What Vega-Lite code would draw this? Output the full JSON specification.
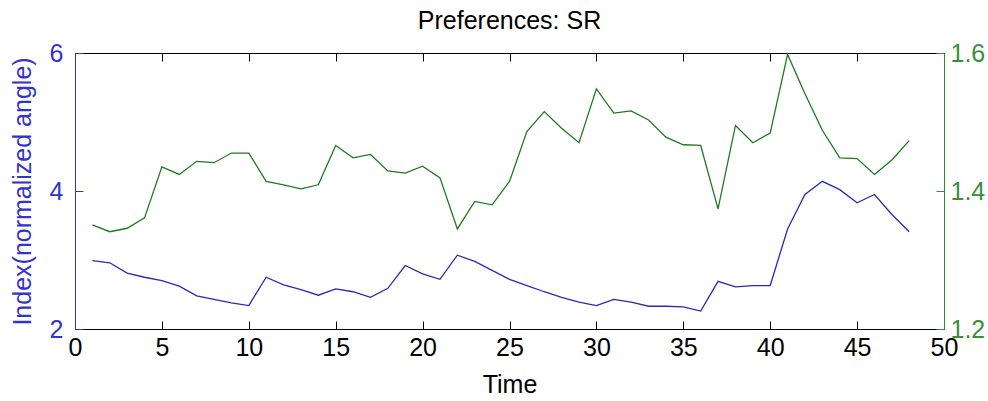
{
  "$schema": "https://vega.github.io/schema/vega-lite/v6.json",
  "width": 869,
  "height": 276,
  "autosize": {"type": "none"},
  "padding": {"left": 75, "top": 53, "right": 44, "bottom": 72},
  "background": "white",
  "config": {
    "font": "Liberation Sans",
    "view": {"stroke": "black", "strokeWidth": 1},
    "axis": {"grid": false, "labelFontSize": 25, "titleFontSize": 25, "titleFontWeight": "normal", "domainWidth": 1, "tickWidth": 1, "labelOverlap": false, "labelFlush": false}
  },
  "title": {"text": "Preferences: SR", "fontSize": 25, "fontWeight": "normal", "color": "black", "baseline": "bottom", "offset": 19, "anchor": "middle", "frame": "group", "dy": 37},
  "data": {"values": [
    {"t": 1, "index": 2.99, "pref": 1.351},
    {"t": 2, "index": 2.96, "pref": 1.341},
    {"t": 3, "index": 2.81, "pref": 1.346},
    {"t": 4, "index": 2.75, "pref": 1.361},
    {"t": 5, "index": 2.70, "pref": 1.435},
    {"t": 6, "index": 2.62, "pref": 1.424},
    {"t": 7, "index": 2.48, "pref": 1.443},
    {"t": 8, "index": 2.43, "pref": 1.441},
    {"t": 9, "index": 2.38, "pref": 1.455},
    {"t": 10, "index": 2.34, "pref": 1.455},
    {"t": 11, "index": 2.75, "pref": 1.414},
    {"t": 12, "index": 2.64, "pref": 1.409},
    {"t": 13, "index": 2.57, "pref": 1.403},
    {"t": 14, "index": 2.49, "pref": 1.409},
    {"t": 15, "index": 2.58, "pref": 1.466},
    {"t": 16, "index": 2.54, "pref": 1.448},
    {"t": 17, "index": 2.46, "pref": 1.453},
    {"t": 18, "index": 2.59, "pref": 1.429},
    {"t": 19, "index": 2.92, "pref": 1.426},
    {"t": 20, "index": 2.80, "pref": 1.436},
    {"t": 21, "index": 2.72, "pref": 1.419},
    {"t": 22, "index": 3.07, "pref": 1.345},
    {"t": 23, "index": 2.98, "pref": 1.385},
    {"t": 24, "index": 2.85, "pref": 1.380},
    {"t": 25, "index": 2.72, "pref": 1.414},
    {"t": 26, "index": 2.63, "pref": 1.486},
    {"t": 27, "index": 2.54, "pref": 1.515},
    {"t": 28, "index": 2.46, "pref": 1.491},
    {"t": 29, "index": 2.39, "pref": 1.470},
    {"t": 30, "index": 2.34, "pref": 1.548},
    {"t": 31, "index": 2.43, "pref": 1.513},
    {"t": 32, "index": 2.39, "pref": 1.516},
    {"t": 33, "index": 2.33, "pref": 1.503},
    {"t": 34, "index": 2.33, "pref": 1.478},
    {"t": 35, "index": 2.32, "pref": 1.467},
    {"t": 36, "index": 2.26, "pref": 1.466},
    {"t": 37, "index": 2.69, "pref": 1.374},
    {"t": 38, "index": 2.61, "pref": 1.495},
    {"t": 39, "index": 2.63, "pref": 1.470},
    {"t": 40, "index": 2.63, "pref": 1.484},
    {"t": 41, "index": 3.45, "pref": 1.598},
    {"t": 42, "index": 3.95, "pref": 1.541},
    {"t": 43, "index": 4.14, "pref": 1.488},
    {"t": 44, "index": 4.02, "pref": 1.448},
    {"t": 45, "index": 3.83, "pref": 1.447},
    {"t": 46, "index": 3.95, "pref": 1.424},
    {"t": 47, "index": 3.66, "pref": 1.445},
    {"t": 48, "index": 3.41, "pref": 1.473}
  ]},
  "layer": [
    {
      "mark": {"type": "line", "color": "#2a2ab8", "strokeWidth": 1.3},
      "encoding": {
        "x": {"field": "t", "type": "quantitative", "scale": {"domain": [0, 50], "nice": false},
          "axis": {"orient": "bottom", "title": "Time", "values": [0,5,10,15,20,25,30,35,40,45,50], "tickSize": -8, "labelPadding": 14, "labelColor": "black", "domainColor": "black", "tickColor": "black", "titleColor": "black", "titlePadding": 12}},
        "y": {"field": "index", "type": "quantitative", "scale": {"domain": [2, 6], "nice": false, "zero": false},
          "axis": {"orient": "left", "title": "Index(normalized angle)", "values": [2,4,6], "tickSize": -8, "labelPadding": 20, "labelColor": "#3333cc", "domainColor": "#3333cc", "tickColor": "#3333cc", "titleColor": "#3333cc", "titlePadding": 14}}
      }
    },
    {
      "mark": {"type": "line", "color": "#1e7a1e", "strokeWidth": 1.3},
      "encoding": {
        "x": {"field": "t", "type": "quantitative",
          "axis": {"orient": "top", "title": null, "labels": false, "values": [0,5,10,15,20,25,30,35,40,45,50], "tickSize": -8, "domainColor": "black", "tickColor": "black"}},
        "y": {"field": "pref", "type": "quantitative", "scale": {"domain": [1.2, 1.6], "nice": false, "zero": false},
          "axis": {"orient": "right", "title": null, "values": [1.2,1.4,1.6], "format": ".1f", "tickSize": -8, "labelPadding": 14, "labelColor": "#3a8f3a", "domainColor": "#2f8f2f", "tickColor": "#2f8f2f"}}
      }
    }
  ],
  "resolve": {"scale": {"y": "independent"}, "axis": {"x": "independent"}}
}
